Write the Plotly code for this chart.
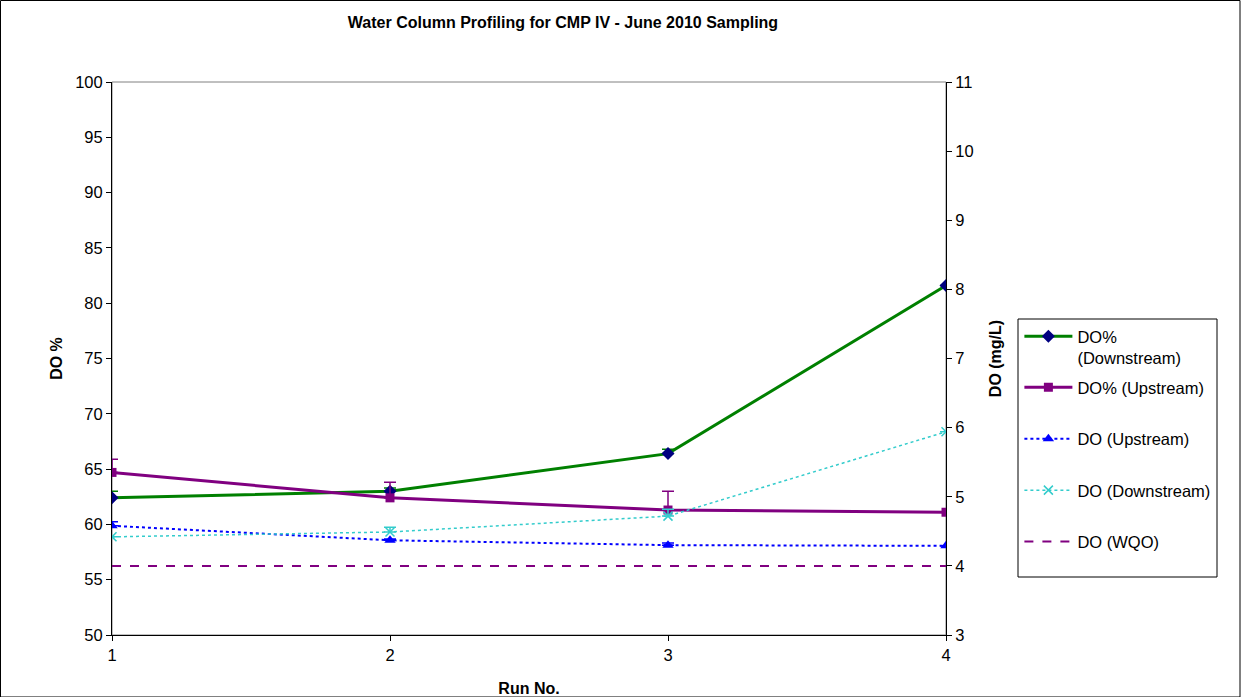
import plotly.graph_objects as go

runs = [1, 2, 3, 4]
do_pct_down = [62.4, 63.0, 66.4, 81.6]
do_pct_down_err = [0.6, 0.3, 0.4, 0.0]
do_pct_up = [64.7, 62.4, 61.3, 61.1]
do_pct_up_err = [1.2, 1.4, 1.7, 0.0]
do_up = [4.58, 4.37, 4.30, 4.29]
do_up_err = [0.06, 0.02, 0.03, 0.0]
do_down = [4.42, 4.49, 4.72, 5.94]
do_down_err = [0.0, 0.07, 0.10, 0.0]
do_wqo = [4.0, 4.0, 4.0, 4.0]

FONT = "Liberation Sans, Arial, sans-serif"

fig = go.Figure()

fig.add_trace(go.Scatter(
    x=runs, y=do_pct_down, name="DO%<br>(Downstream)", mode="lines+markers",
    line=dict(color="#008000", width=3),
    marker=dict(symbol="diamond", color="#000080", size=10),
    error_y=dict(type="data", array=do_pct_down_err, arrayminus=[0]*4, symmetric=False,
                 color="#008000", thickness=1.5, width=6),
    legend="legend", yaxis="y"))
fig.add_trace(go.Scatter(
    x=runs, y=do_pct_up, name="DO% (Upstream)", mode="lines+markers",
    line=dict(color="#800080", width=3),
    marker=dict(symbol="square", color="#800080", size=9),
    error_y=dict(type="data", array=do_pct_up_err, arrayminus=[0]*4, symmetric=False,
                 color="#800080", thickness=1.5, width=6),
    legendgroup="b", legend="legend2", yaxis="y"))
fig.add_trace(go.Scatter(
    x=runs, y=do_up, name="DO (Upstream)", mode="lines+markers",
    line=dict(color="#0000FF", width=2, dash="dot"),
    marker=dict(symbol="triangle-up", color="#0000FF", size=10),
    error_y=dict(type="data", array=do_up_err, arrayminus=[0]*4, symmetric=False,
                 color="#0000FF", thickness=1.5, width=6),
    legendgroup="c", legend="legend2", yaxis="y2"))
fig.add_trace(go.Scatter(
    x=runs, y=do_down, name="DO (Downstream)", mode="lines+markers",
    line=dict(color="#33CCCC", width=1.5, dash="dot"),
    marker=dict(symbol="x-thin-open", color="#33CCCC", size=9, line=dict(width=1.5, color="#33CCCC")),
    error_y=dict(type="data", array=do_down_err, arrayminus=[0]*4, symmetric=False,
                 color="#33CCCC", thickness=1.5, width=6),
    legendgroup="d", legend="legend2", yaxis="y2"))
fig.add_trace(go.Scatter(
    x=runs, y=do_wqo, name="DO (WQO)", mode="lines",
    line=dict(color="#800080", width=2, dash="dash"),
    legendgroup="e", legend="legend2", yaxis="y2"))

legend_common = dict(xanchor="left", yanchor="top", borderwidth=0,
                     bgcolor="rgba(0,0,0,0)", valign="top",
                     font=dict(size=16.5, family=FONT), tracegroupgap=27, itemwidth=48)

fig.update_layout(
    width=1243, height=697,
    margin=dict(l=112, r=297, t=82, b=62, autoexpand=False),
    paper_bgcolor="white", plot_bgcolor="white",
    font=dict(family=FONT, size=16, color="black"),
    title=dict(text="<b>Water Column Profiling for CMP IV - June 2010 Sampling</b>",
               x=563 / 1243, xref="container", xanchor="center",
               y=1 - 22 / 697, yref="container", yanchor="middle",
               font=dict(size=16, family=FONT)),
    xaxis=dict(range=[1, 4], tickvals=runs, ticktext=["1", "2", "3", "4"],
               showline=True, linecolor="black", linewidth=1, ticks="outside",
               ticklen=5, tickcolor="black", showgrid=False, zeroline=False,
               automargin=False,
               title=dict(text="<b>Run No.</b>", font=dict(size=16), standoff=22),
               tickfont=dict(size=16.5)),
    yaxis=dict(range=[50, 100], dtick=5, showline=True, linecolor="black", linewidth=1,
               ticks="outside", ticklen=5, tickcolor="black", showgrid=False, zeroline=False,
               automargin=False,
               title=dict(text="<b>DO %</b>", font=dict(size=16), standoff=8),
               tickfont=dict(size=16.5)),
    yaxis2=dict(range=[3, 11], dtick=1, overlaying="y", side="right", anchor="x",
                showline=True, linecolor="black", linewidth=1, ticks="outside",
                ticklen=5, tickcolor="black", showgrid=False, zeroline=False,
                automargin=False,
                title=dict(text="<b>DO (mg/L)</b>", font=dict(size=16), standoff=17),
                tickfont=dict(size=16.5)),
    legend=dict(x=1.088, y=(635 - 319) / 553, **legend_common),
    legend2=dict(x=1.088, y=(635 - 370) / 553, **legend_common),
    showlegend=True,
)

# plot-area frame (grey) and legend box
fig.add_shape(type="rect", xref="paper", yref="paper", x0=0, x1=1, y0=0, y1=1,
              line=dict(color="#808080", width=1), layer="below")
fig.add_shape(type="rect", xref="paper", yref="paper",
              x0=(1018 - 112) / 834, x1=(1217 - 112) / 834,
              y0=(635 - 577) / 553, y1=(635 - 319) / 553,
              line=dict(color="black", width=1), layer="below")
# outer chart border
fig.add_shape(type="rect", xref="paper", yref="paper",
              x0=(0.5 - 112) / 834, x1=(1240 - 112) / 834,
              y0=(635 - 697) / 553, y1=(635 - 0.5) / 553,
              line=dict(color="black", width=1), layer="below")

fig.write_html("out.html", config={"displayModeBar": False},
               post_script="document.body.style.margin='0';")
